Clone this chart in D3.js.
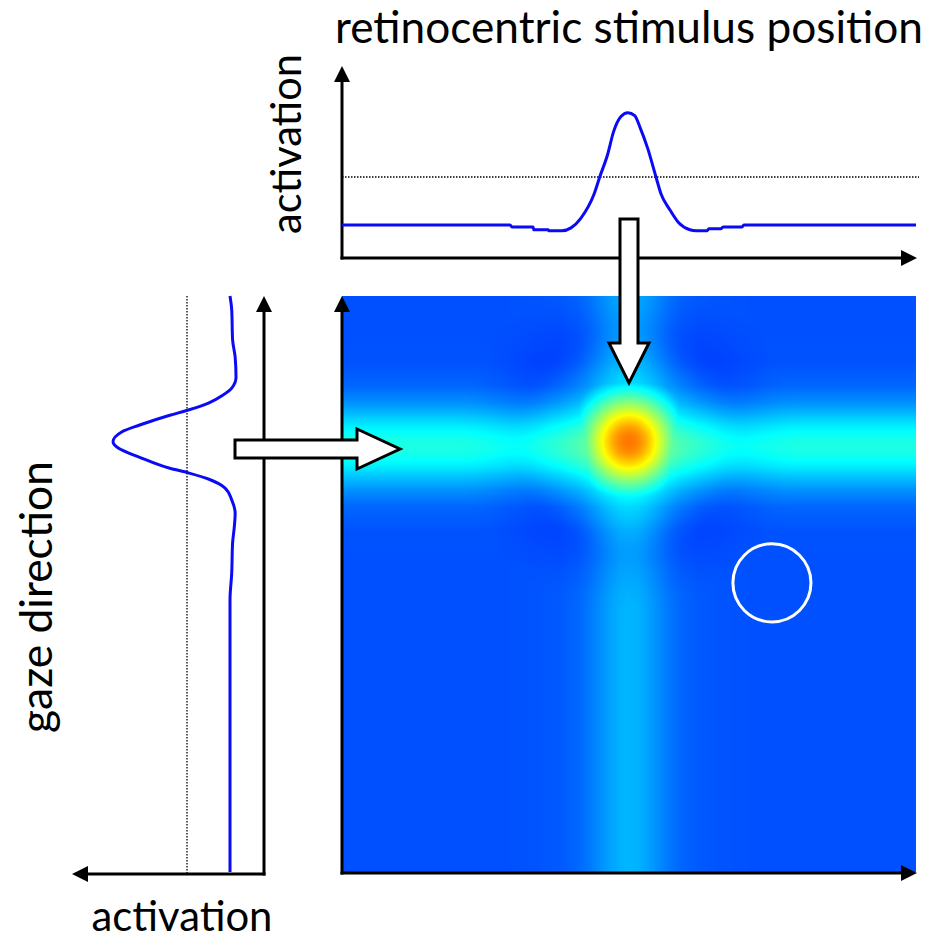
<!DOCTYPE html>
<html>
<head>
<meta charset="utf-8">
<script src="https://cdn.jsdelivr.net/npm/d3@7"></script>
<style>
  body { margin: 0; background: #fff; }
  svg { display: block; }
  text { font-family: Lato, "Open Sans", sans-serif; fill: #000; }
</style>
</head>
<body>
<script>
// top plot: activation over retinocentric stimulus position (0..100)
var retinalPos = [0, 29.3, 29.6, 33.3, 33.4, 35.9, 36.0, 38.3, 39.9, 41.6, 43.9, 44.9, 46.3, 47.3, 48.6, 49.8,
                  51.0, 51.9, 53.3, 54.7, 55.6, 57.0, 58.7, 60.6, 61.7, 63.6, 63.9, 66.0, 66.4, 69.7, 70.0, 100];
var retinalAct = [-5, -5, -5.2, -5.2, -5.5, -5.5, -5.6, -5.6, -5.3, -4.3, -1.8, 0, 2.4, 4.7, 6.3, 6.7,
                  6.4, 5.2, 2.9, 0, -1.8, -3.3, -4.8, -5.5, -5.6, -5.6, -5.4, -5.4, -5.2, -5.2, -5, -5];

// left plot: activation over gaze direction (0..100, bottom to top)
var gazePos = [100, 97.6, 92.4, 89.4, 85.9, 84.0, 82.8, 81.4, 80.2, 79.3, 77.6, 76.4, 74.7,
               73.6, 72.0, 70.1, 69.3, 68.1, 66.7, 64.6, 62.3, 59.9, 57.1, 51.9, 47.2, 0];
var gazeAct = [-5.0, -5.2, -5.3, -5.6, -5.7, -5.2, -4.2, -2.5, -0.15, 2.0, 5.5, 7.6, 8.6,
               8.0, 5.5, 2.0, -0.15, -2.7, -4.4, -5.2, -5.6, -5.5, -5.3, -5.2, -5.0, -5.0];

var threshold = 0;

// 2D field, as colour level (0..1 of the jet map)
var fieldRest = 0.203;
var ridgeRetPos   = [0, 28, 34, 38, 41, 43, 45, 47, 48.5, 50, 51.5, 53, 55, 57, 59, 62, 66, 72, 100];
var ridgeRetLevel = [0, 0, 0.004, 0.01, 0.022, 0.039, 0.062, 0.084, 0.096, 0.1, 0.096, 0.084, 0.062, 0.039, 0.022, 0.01, 0.004, 0, 0];
var ridgeGazePos   = [0, 54.4, 59.4, 63.4, 66.4, 68.4, 70.4, 72.4, 73.9, 75.4, 77.4, 79.4, 81.4, 84.4, 88.4, 93.4, 100];
var ridgeGazeLevel = [0, 0, 0.003, 0.022, 0.065, 0.109, 0.157, 0.191, 0.2, 0.191, 0.157, 0.109, 0.065, 0.022, 0.003, 0, 0];
var peakRet = 50, peakGaze = 74.7;
// round peak core, level at distance 0, 1, 2 ... 12 from its centre
var peakCore = [0.76, 0.755, 0.735, 0.70, 0.655, 0.605, 0.55, 0.495, 0.445, 0.395, 0.35, 0.305, 0.265];
var coreMaxDist = 12;
// halo and surrounding inhibition, added at distance 0, 2, 4 ... 30
var peakSurround = [0.05, 0.05, 0.045, 0.04, 0.03, 0.02, 0.01, 0.0, -0.012, -0.022, -0.024, -0.018, -0.012, -0.006, -0.002, 0];
var surroundMaxDist = 30;

// white circle in the field
var marker = {ret: 74.9, gaze: 50.2, r: 6.8};

var width = 934, height = 941;

var svg = d3.select("body").append("svg")
    .attr("width", width)
    .attr("height", height);

var x = d3.scaleLinear().domain([0, 100]).range([342, 916]);
var y = d3.scaleLinear().domain([0, 100]).range([872, 296]);
var actTop = d3.scaleLinear().domain([-5, 0]).range([225, 177]);
var actLeft = d3.scaleLinear().domain([-5, 0]).range([230, 187]);

var jet = d3.scaleLinear()
    .domain([0, 0.125, 0.375, 0.625, 0.875, 1])
    .range(["#00008f", "#0000ff", "#00ffff", "#ffff00", "#ff0000", "#800000"])
    .clamp(true);

// ---- heat map
var ridgeRet = d3.scaleLinear().domain(ridgeRetPos).range(ridgeRetLevel).clamp(true);
var ridgeGaze = d3.scaleLinear().domain(ridgeGazePos).range(ridgeGazeLevel).clamp(true);
var core = d3.interpolateBasis(peakCore);
var surround = d3.interpolateBasis(peakSurround);

var lut = d3.range(1024).map(function(i) { return d3.rgb(jet(i / 1023)); });

var x0 = x(0), y0 = y(100);
var cw = Math.round(x(100) - x(0)), ch = Math.round(y(0) - y(100));
var canvas = document.createElement("canvas");
canvas.width = cw;
canvas.height = ch;
var ctx = canvas.getContext("2d");
var img = ctx.createImageData(cw, ch);
for (var j = 0; j < ch; j++) {
  var g = y.invert(y0 + j + 0.5);
  for (var i = 0; i < cw; i++) {
    var u = x.invert(x0 + i + 0.5);
    var d = Math.sqrt((u - peakRet) * (u - peakRet) + (g - peakGaze) * (g - peakGaze));
    var v = fieldRest + ridgeRet(u) + ridgeGaze(g) + (d < surroundMaxDist ? surround(d / surroundMaxDist) : 0);
    if (d < coreMaxDist) v = Math.max(v, core(d / coreMaxDist));
    var c = lut[Math.max(0, Math.min(1023, Math.round(v * 1023)))];
    var k = (j * cw + i) * 4;
    img.data[k] = c.r; img.data[k + 1] = c.g; img.data[k + 2] = c.b; img.data[k + 3] = 255;
  }
}
ctx.putImageData(img, 0, 0);

svg.append("image")
    .attr("x", x0)
    .attr("y", y0)
    .attr("width", cw)
    .attr("height", ch)
    .attr("preserveAspectRatio", "none")
    .attr("href", canvas.toDataURL());

// ---- axes with arrow heads
function axisArrow(x1, y1, x2, y2) {
  var len = 16, hw = 8;
  var dx = x2 - x1, dy = y2 - y1, L = Math.sqrt(dx * dx + dy * dy);
  var ux = dx / L, uy = dy / L;
  svg.append("line")
      .attr("x1", x1).attr("y1", y1)
      .attr("x2", x2 - ux * (len - 2)).attr("y2", y2 - uy * (len - 2))
      .attr("stroke", "#000")
      .attr("stroke-width", 3)
      .attr("stroke-linecap", "square");
  var bx = x2 - ux * len, by = y2 - uy * len;
  svg.append("path")
      .attr("d", "M" + x2 + "," + y2 +
                 "L" + (bx - uy * hw) + "," + (by + ux * hw) +
                 "L" + (bx + uy * hw) + "," + (by - ux * hw) + "Z")
      .attr("fill", "#000");
}

// top plot
axisArrow(342, 258, 342, 66);
axisArrow(342, 258, 917, 258);
// left plot
axisArrow(264, 874, 264, 296);
axisArrow(264, 874, 72, 874);
// field
axisArrow(342, 873, 342, 296);
axisArrow(342, 873, 917, 873);

// thresholds
svg.append("line")
    .attr("x1", x(0)).attr("x2", 919)
    .attr("y1", actTop(threshold)).attr("y2", actTop(threshold))
    .attr("stroke", "#000")
    .attr("stroke-width", 1.3)
    .attr("stroke-dasharray", "1.5,1.5");

svg.append("line")
    .attr("x1", actLeft(threshold)).attr("x2", actLeft(threshold))
    .attr("y1", y(100)).attr("y2", 874)
    .attr("stroke", "#000")
    .attr("stroke-width", 1.3)
    .attr("stroke-dasharray", "1.5,1.5");

// activation curves
var topLine = d3.line()
    .x(function(d) { return x(d[0]); })
    .y(function(d) { return actTop(d[1]); })
    .curve(d3.curveMonotoneX);

svg.append("path")
    .datum(d3.zip(retinalPos, retinalAct))
    .attr("d", topLine)
    .attr("fill", "none")
    .attr("stroke", "#0a0af5")
    .attr("stroke-width", 3);

var leftLine = d3.line()
    .x(function(d) { return actLeft(d[1]); })
    .y(function(d) { return y(d[0]); })
    .curve(d3.curveMonotoneY);

svg.append("path")
    .datum(d3.zip(gazePos, gazeAct))
    .attr("d", leftLine)
    .attr("fill", "none")
    .attr("stroke", "#0a0af5")
    .attr("stroke-width", 3);

// white circle
svg.append("circle")
    .attr("cx", x(marker.ret))
    .attr("cy", y(marker.gaze))
    .attr("r", x(marker.ret + marker.r) - x(marker.ret))
    .attr("fill", "none")
    .attr("stroke", "#fff")
    .attr("stroke-width", 3);

// block arrows (input into the field)
var dcx = 629;
svg.append("polygon")
    .attr("points", [[dcx - 9, 219], [dcx + 9, 219], [dcx + 9, 343], [dcx + 20, 343], [dcx, 383],
                     [dcx - 20, 343], [dcx - 9, 343]].join(" "))
    .attr("fill", "#fff")
    .attr("stroke", "#000")
    .attr("stroke-width", 3);

var rcy = 449;
svg.append("polygon")
    .attr("points", [[235, rcy - 9], [357, rcy - 9], [357, rcy - 20], [400, rcy], [357, rcy + 20],
                     [357, rcy + 9], [235, rcy + 9]].join(" "))
    .attr("fill", "#fff")
    .attr("stroke", "#000")
    .attr("stroke-width", 3);

// ---- labels
function fitText(sel, w) {
  var len = sel.node().getComputedTextLength();
  sel.style("font-size", (40 * w / len) + "px");
}

var title = svg.append("text")
    .attr("x", 335)
    .attr("y", 43)
    .style("font-size", "40px")
    .text("retinocentric stimulus position");
fitText(title, 588);

var actV = svg.append("text")
    .attr("transform", "translate(301,144) rotate(-90)")
    .attr("text-anchor", "middle")
    .style("font-size", "40px")
    .text("activation");
fitText(actV, 180);

var gazeLabel = svg.append("text")
    .attr("transform", "translate(52,597) rotate(-90)")
    .attr("text-anchor", "middle")
    .style("font-size", "40px")
    .text("gaze direction");
fitText(gazeLabel, 272);

var actH = svg.append("text")
    .attr("x", 182)
    .attr("y", 931)
    .attr("text-anchor", "middle")
    .style("font-size", "40px")
    .text("activation");
fitText(actH, 181);
</script>
</body>
</html>
